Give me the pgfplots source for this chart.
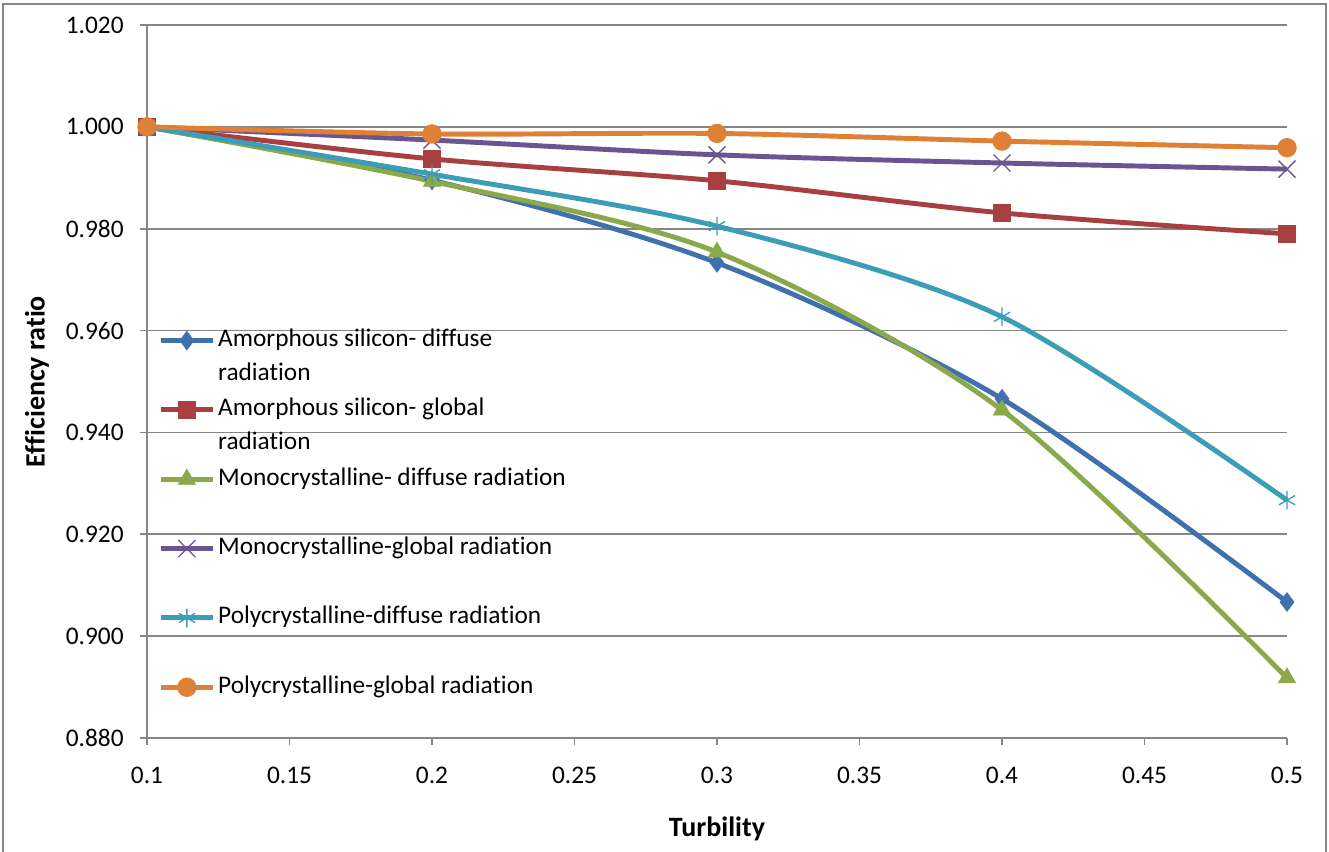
\documentclass[border=0pt]{standalone}
\usepackage{fontspec}
\setmainfont{Carlito}[Ligatures=NoCommon]
\usepackage{pgfplots}
\pgfplotsset{compat=1.18}
\definecolor{cBlue}{HTML}{4070AE}
\definecolor{cRed}{HTML}{A8403F}
\definecolor{cGreen}{HTML}{8BA84A}
\definecolor{cPurple}{HTML}{6B5590}
\definecolor{cCyan}{HTML}{3B9DB6}
\definecolor{cOrange}{HTML}{DE8035}
\definecolor{cGrid}{HTML}{868686}
\begin{document}
\fontsize{19}{25.5}\selectfont
\begin{tikzpicture}
\useasboundingbox (0,0) rectangle (996.75pt,639pt);
\draw[color=cGrid, line width=1.5pt] (2.25pt,-5pt) -- (2.25pt,636pt) -- (994.5pt,636pt) -- (994.5pt,-5pt);
\begin{axis}[
  at={(110.25pt,85.5pt)}, anchor=south west,
  scale only axis, width=855pt, height=534.75pt,
  xmin=0.1, xmax=0.5, ymin=0.88, ymax=1.02,
  axis x line*=bottom, axis y line*=left,
  axis line style={-, draw=cGrid, line width=1.2pt},
  xtick={0.1,0.15,0.2,0.25,0.3,0.35,0.4,0.45,0.5},
  xticklabels={0.1,0.15,0.2,0.25,0.3,0.35,0.4,0.45,0.5},
  ytick={0.88,0.9,0.92,0.94,0.96,0.98,1.0,1.02},
  yticklabels={0.880,0.900,0.920,0.940,0.960,0.980,1.000,1.020},
  tick align=outside, major tick length=5pt,
  tick style={draw=cGrid, line width=1.2pt},
  ymajorgrids, major grid style={draw=cGrid, line width=1.2pt},
  xticklabel style={yshift=-10pt},
  yticklabel style={xshift=-6pt},
  xlabel={\fontsize{21}{25}\selectfont\bfseries Turbility},
  ylabel={\fontsize{21}{25}\selectfont\bfseries Efficiency ratio},
  xlabel style={at={(axis description cs:0.5,-0.1275)}, anchor=center},
  ylabel style={at={(axis description cs:-0.0965,0.5)}, anchor=center, rotate=0},
  legend cell align=left,
  legend style={at={(0.0061,0.583)}, anchor=north west, draw=none, fill=none,
    row sep=29pt, nodes={text height=14pt, text depth=5pt, inner sep=2pt}},
  legend image code/.code={\draw[mark repeat=2,mark phase=2] plot coordinates {(0cm,0cm) (0.69cm,0cm) (1.38cm,0cm)};},
  every axis plot/.append style={line width=3.7pt, smooth, tension=0.5},
  clip=false,
]
\addplot[color=cBlue, mark=diamond*, mark size=7pt, mark options={line width=0.5pt}] coordinates {(0.1,1.000) (0.2,0.9895) (0.3,0.9733) (0.4,0.9466) (0.5,0.9067)};
\addlegendentry{\smash{\begin{tabular}[t]{@{}l@{}}Amorphous silicon- diffuse\\radiation\end{tabular}}}
\addplot[color=cRed, mark=square*, mark size=6.5pt, mark options={line width=0.5pt}] coordinates {(0.1,1.000) (0.2,0.9937) (0.3,0.9894) (0.4,0.9831) (0.5,0.9790)};
\addlegendentry{\smash{\begin{tabular}[t]{@{}l@{}}Amorphous silicon- global\\radiation\end{tabular}}}
\addplot[color=cGreen, mark=triangle*, mark size=7.5pt, mark options={line width=0.5pt}] coordinates {(0.1,1.000) (0.2,0.9893) (0.3,0.9754) (0.4,0.9444) (0.5,0.8918)};
\addlegendentry{Monocrystalline- diffuse radiation}
\addplot[color=cPurple, mark=x, mark size=9pt, mark options={line width=1pt}] coordinates {(0.1,1.000) (0.2,0.9974) (0.3,0.9945) (0.4,0.9929) (0.5,0.9917)};
\addlegendentry{Monocrystalline-global radiation}
\addplot[color=cCyan, mark=asterisk, mark size=7pt, mark options={line width=1pt}] coordinates {(0.1,1.000) (0.2,0.9907) (0.3,0.9805) (0.4,0.9627) (0.5,0.9267)};
\addlegendentry{Polycrystalline-diffuse radiation}
\addplot[color=cOrange, mark=*, mark size=7pt, mark options={line width=0.5pt}] coordinates {(0.1,1.000) (0.2,0.9986) (0.3,0.9987) (0.4,0.9972) (0.5,0.9959)};
\addlegendentry{Polycrystalline-global radiation}
\end{axis}
\end{tikzpicture}
\end{document}
